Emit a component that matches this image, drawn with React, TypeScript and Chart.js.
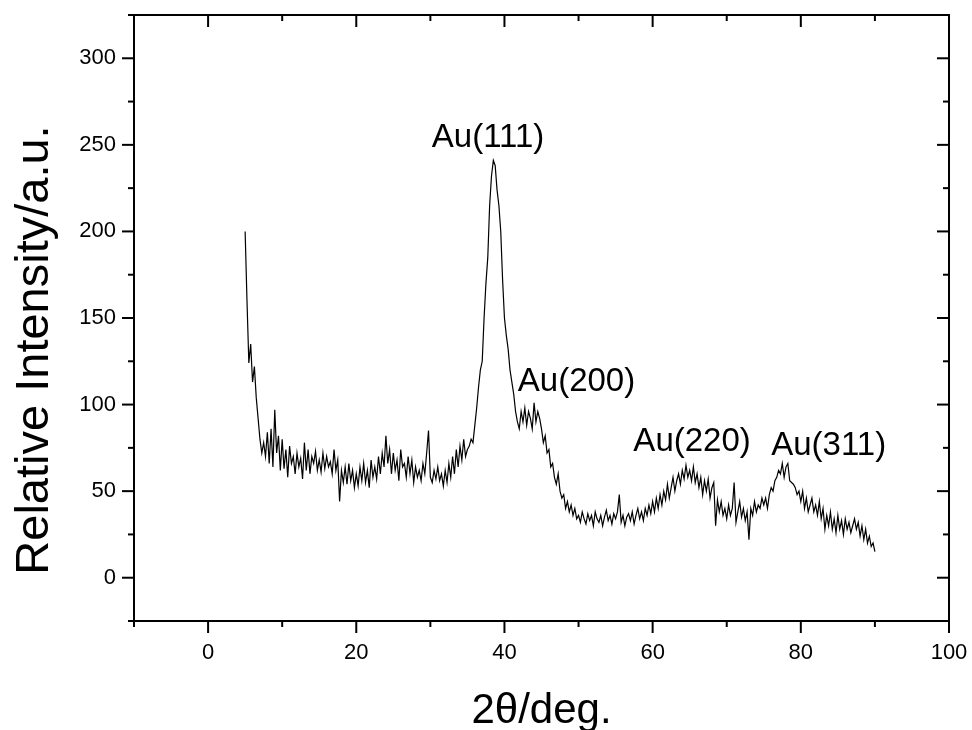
import { useEffect, useRef } from 'react';
import { Chart, registerables } from 'chart.js';

Chart.register(...registerables);

// 2θ angles (deg)
const twoTheta = [
  5, 5.25, 5.5, 5.75, 6, 6.25, 6.5, 6.75, 7, 7.25, 7.5, 7.75, 8, 8.25, 8.5, 8.75, 9, 9.25, 9.5, 9.75,
  10, 10.25, 10.5, 10.75, 11, 11.25, 11.5, 11.75, 12, 12.25, 12.5, 12.75, 13, 13.25, 13.5, 13.75, 14, 14.25, 14.5, 14.75,
  15, 15.25, 15.5, 15.75, 16, 16.25, 16.5, 16.75, 17, 17.25, 17.5, 17.75, 18, 18.25, 18.5, 18.75, 19, 19.25, 19.5, 19.75,
  20, 20.25, 20.5, 20.75, 21, 21.25, 21.5, 21.75, 22, 22.25, 22.5, 22.75, 23, 23.25, 23.5, 23.75, 24, 24.25, 24.5, 24.75,
  25, 25.25, 25.5, 25.75, 26, 26.25, 26.5, 26.75, 27, 27.25, 27.5, 27.75, 28, 28.25, 28.5, 28.75, 29, 29.25, 29.5, 29.75,
  30, 30.25, 30.5, 30.75, 31, 31.25, 31.5, 31.75, 32, 32.25, 32.5, 32.75, 33, 33.25, 33.5, 33.75, 34, 34.25, 34.5, 34.75,
  35, 35.25, 35.5, 35.75, 36, 36.25, 36.5, 36.75, 37, 37.25, 37.5, 37.75, 38, 38.25, 38.5, 38.75, 39, 39.25, 39.5, 39.75,
  40, 40.25, 40.5, 40.75, 41, 41.25, 41.5, 41.75, 42, 42.25, 42.5, 42.75, 43, 43.25, 43.5, 43.75, 44, 44.25, 44.5, 44.75,
  45, 45.25, 45.5, 45.75, 46, 46.25, 46.5, 46.75, 47, 47.25, 47.5, 47.75, 48, 48.25, 48.5, 48.75, 49, 49.25, 49.5, 49.75,
  50, 50.25, 50.5, 50.75, 51, 51.25, 51.5, 51.75, 52, 52.25, 52.5, 52.75, 53, 53.25, 53.5, 53.75, 54, 54.25, 54.5, 54.75,
  55, 55.25, 55.5, 55.75, 56, 56.25, 56.5, 56.75, 57, 57.25, 57.5, 57.75, 58, 58.25, 58.5, 58.75, 59, 59.25, 59.5, 59.75,
  60, 60.25, 60.5, 60.75, 61, 61.25, 61.5, 61.75, 62, 62.25, 62.5, 62.75, 63, 63.25, 63.5, 63.75, 64, 64.25, 64.5, 64.75,
  65, 65.25, 65.5, 65.75, 66, 66.25, 66.5, 66.75, 67, 67.25, 67.5, 67.75, 68, 68.25, 68.5, 68.75, 69, 69.25, 69.5, 69.75,
  70, 70.25, 70.5, 70.75, 71, 71.25, 71.5, 71.75, 72, 72.25, 72.5, 72.75, 73, 73.25, 73.5, 73.75, 74, 74.25, 74.5, 74.75,
  75, 75.25, 75.5, 75.75, 76, 76.25, 76.5, 76.75, 77, 77.25, 77.5, 77.75, 78, 78.25, 78.5, 78.75, 79, 79.25, 79.5, 79.75,
  80, 80.25, 80.5, 80.75, 81, 81.25, 81.5, 81.75, 82, 82.25, 82.5, 82.75, 83, 83.25, 83.5, 83.75, 84, 84.25, 84.5, 84.75,
  85, 85.25, 85.5, 85.75, 86, 86.25, 86.5, 86.75, 87, 87.25, 87.5, 87.75, 88, 88.25, 88.5, 88.75, 89, 89.25, 89.5, 89.75,
  90,
];

// Relative intensity (a.u.)
const intensity = [
  200, 160, 124, 135, 113, 122, 104, 92, 80, 72, 78, 70, 84, 66, 86, 64, 97, 72, 82, 62,
  80, 63, 74, 58, 76, 66, 70, 60, 72, 64, 69, 57, 78, 62, 74, 60, 70, 66, 73, 62,
  68, 61, 72, 63, 70, 64, 67, 60, 74, 62, 68, 44, 62, 55, 64, 54, 66, 56, 62, 52,
  60, 53, 64, 56, 66, 55, 62, 52, 68, 58, 64, 57, 70, 60, 72, 64, 82, 66, 74, 60,
  72, 62, 68, 56, 74, 64, 66, 58, 70, 60, 68, 55, 64, 58, 62, 56, 66, 60, 72, 85,
  58, 55, 62, 57, 64, 56, 60, 53, 62, 55, 66, 58, 70, 60, 74, 64, 76, 68, 80, 70,
  74, 76, 80, 78, 88, 98, 110, 120, 125, 150, 170, 185, 215, 232, 241, 238, 224, 215, 200, 172,
  150, 140, 132, 120, 113, 106, 96, 90, 86, 96, 90, 98, 88, 96, 92, 86, 101, 90, 96, 92,
  86, 78, 82, 72, 74, 64, 66, 58, 54, 60, 50, 46, 48, 40, 44, 38, 42, 36, 40, 34,
  36, 32, 38, 34, 31, 37, 33, 36, 30, 38, 34, 32, 36, 30, 35, 39, 33, 36, 31, 37,
  34, 38, 48, 32, 36, 30, 35, 37, 33, 38, 31, 36, 40, 34, 38, 33, 40, 36, 42, 37,
  44, 38, 46, 40, 48, 42, 50, 45, 54, 46, 52, 58, 50, 56, 60, 54, 62, 57, 65, 58,
  62, 56, 64, 55, 60, 52, 58, 48, 56, 50, 57, 46, 52, 55, 30, 45, 38, 44, 36, 40,
  34, 42, 36, 40, 55, 32, 38, 44, 35, 40, 33, 38, 22, 40, 36, 44, 38, 42, 40, 46,
  42, 46, 40, 48, 52, 50, 56, 58, 62, 60, 66, 58, 64, 66, 56, 55, 54, 52, 48, 50,
  44, 50, 40, 46, 38, 42, 46, 38, 42, 36, 44, 34, 40, 28, 36, 30, 38, 28, 34, 26,
  36, 28, 33, 25, 34, 28, 32, 26, 30, 34, 28, 32, 24, 30, 22, 28, 20, 24, 18, 20,
  15,
];

const xMajorTicks = [0, 20, 40, 60, 80, 100];
const xMinorTicks = [-10, 10, 30, 50, 70, 90];
const yMajorTicks = [0, 50, 100, 150, 200, 250, 300];
const yMinorTicks = [-25, 25, 75, 125, 175, 225, 275, 325];

const peakLabels = ['Au(111)', 'Au(200)', 'Au(220)', 'Au(311)'];
const peakLabelX = [30.2, 41.8, 57.4, 76.0];
const peakLabelY = [248.6, 107.7, 73.0, 71.1];

const xTitle = '2\u03b8/deg.';
const yTitle = 'Relative Intensity/a.u.';

const FONT = 'Arial, "Liberation Sans", sans-serif';

const framePlugin = {
  id: 'originFrame',
  afterDraw(chart: any) {
    const { ctx, chartArea, scales } = chart;
    const xs = scales.x;
    const ys = scales.y;
    const { left, right, top, bottom } = chartArea;
    ctx.save();
    ctx.strokeStyle = '#000';
    ctx.lineWidth = 2;
    ctx.lineCap = 'butt';
    ctx.strokeRect(left, top, right - left, bottom - top);

    const tick = (x1: number, y1: number, x2: number, y2: number) => {
      ctx.beginPath();
      ctx.moveTo(x1, y1);
      ctx.lineTo(x2, y2);
      ctx.stroke();
    };
    const major = 12;
    const minor = 6;
    xMajorTicks.forEach((v) => {
      const px = xs.getPixelForValue(v);
      tick(px, bottom, px, bottom + major);
      tick(px, top, px, top + major);
    });
    xMinorTicks.forEach((v) => {
      const px = xs.getPixelForValue(v);
      tick(px, bottom, px, bottom + minor);
      tick(px, top, px, top + minor);
    });
    yMajorTicks.forEach((v) => {
      const py = ys.getPixelForValue(v);
      tick(left, py, left - major, py);
      tick(right, py, right - major, py);
    });
    yMinorTicks.forEach((v) => {
      const py = ys.getPixelForValue(v);
      tick(left, py, left - minor, py);
      tick(right, py, right - minor, py);
    });

    ctx.fillStyle = '#000';
    ctx.font = `33px ${FONT}`;
    ctx.textAlign = 'left';
    ctx.textBaseline = 'alphabetic';
    peakLabels.forEach((t, i) => {
      ctx.fillText(t, xs.getPixelForValue(peakLabelX[i]), ys.getPixelForValue(peakLabelY[i]));
    });

    ctx.font = `42px ${FONT}`;
    ctx.textAlign = 'center';
    ctx.fillText(xTitle, (left + right) / 2, 723);

    ctx.save();
    ctx.translate(48, 350);
    ctx.rotate(-Math.PI / 2);
    ctx.font = `47px ${FONT}`;
    ctx.textAlign = 'center';
    ctx.textBaseline = 'alphabetic';
    ctx.fillText(yTitle, 0, 0);
    ctx.restore();

    ctx.restore();
  },
};

const zeroPadding = (scale: any) => {
  scale.paddingLeft = 0;
  scale.paddingRight = 0;
  scale.paddingTop = 0;
  scale.paddingBottom = 0;
};

export default function App() {
  const canvasRef = useRef<HTMLCanvasElement | null>(null);

  useEffect(() => {
    if (!canvasRef.current) return;
    const data = twoTheta.map((x, i) => ({ x, y: intensity[i] }));
    const chart = new Chart(canvasRef.current, {
      type: 'line',
      data: {
        datasets: [
          {
            data,
            borderColor: '#000',
            borderWidth: 1.2,
            pointRadius: 0,
            tension: 0,
            fill: false,
          },
        ],
      },
      options: {
        animation: false,
        responsive: true,
        maintainAspectRatio: false,
        layout: { padding: { top: 15, right: 23, left: 0, bottom: 0 } },
        plugins: {
          legend: { display: false },
          tooltip: { enabled: false },
        },
        scales: {
          x: {
            type: 'linear',
            min: -10,
            max: 100,
            grid: { display: false, drawTicks: false },
            border: { display: false },
            ticks: {
              padding: 19,
              color: '#000',
              font: { family: FONT, size: 22 },
              maxRotation: 0,
            },
            afterBuildTicks: (scale: any) => {
              scale.ticks = xMajorTicks.map((v) => ({ value: v }));
            },
            afterFit: (scale: any) => {
              scale.height = 109;
              zeroPadding(scale);
            },
          },
          y: {
            type: 'linear',
            min: -25,
            max: 325,
            grid: { display: false, drawTicks: false },
            border: { display: false },
            ticks: {
              padding: 18,
              color: '#000',
              font: { family: FONT, size: 22 },
            },
            afterBuildTicks: (scale: any) => {
              scale.ticks = yMajorTicks.map((v) => ({ value: v }));
            },
            afterFit: (scale: any) => {
              scale.width = 134;
              zeroPadding(scale);
            },
          },
        },
      },
      plugins: [framePlugin],
    });
    return () => chart.destroy();
  }, []);

  return (
    <div style={{ position: 'absolute', left: 0, top: 0, width: 972, height: 730, background: '#fff' }}>
      <canvas ref={canvasRef} />
    </div>
  );
}
